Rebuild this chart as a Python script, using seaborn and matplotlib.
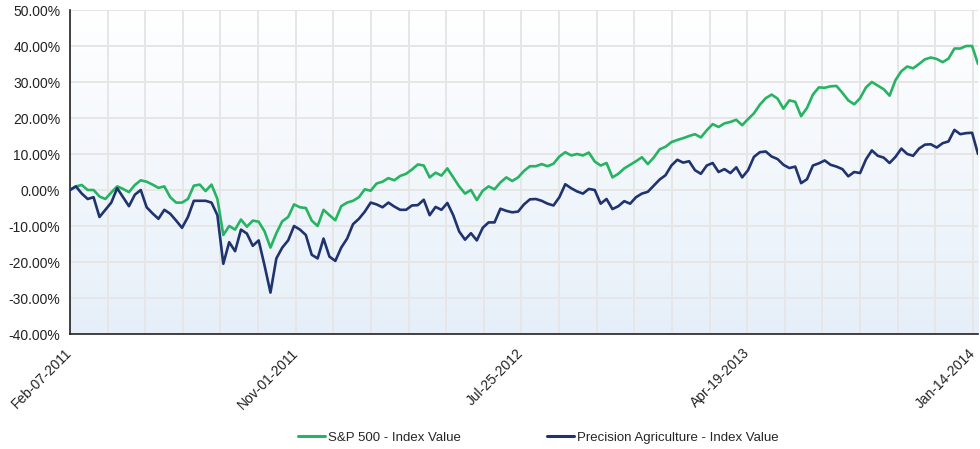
import numpy as np
import pandas as pd
import matplotlib
matplotlib.use("Agg")
import matplotlib.pyplot as plt
import matplotlib.dates as mdates
from matplotlib.colors import LinearSegmentedColormap
from matplotlib.lines import Line2D
import seaborn as sns

# weekly readings (percent change since Feb-07-2011)
START_DATE = "2011-02-07"
sp500 = [
    0.0, 1.0, 1.4, 0.0, 0.0, -1.8, -2.5, -0.7, 1.0, 0.3,
    -0.6, 1.4, 2.7, 2.3, 1.5, 0.6, 1.0, -2.0, -3.5, -3.5,
    -2.5, 1.2, 1.5, -0.3, 1.5, -2.5, -12.5, -10.0, -11.0, -8.2,
    -10.2, -8.5, -8.8, -11.5, -16.0, -12.0, -8.7, -7.5, -4.0, -4.8,
    -5.0, -8.5, -10.0, -5.5, -7.0, -8.4, -4.5, -3.5, -3.0, -2.0,
    0.2, -0.2, 1.8, 2.3, 3.3, 2.7, 3.9, 4.5, 5.7, 7.1,
    6.8, 3.5, 4.8, 4.0, 6.0, 3.5, 1.0, -1.0, 0.0, -2.8,
    -0.2, 1.0, 0.2, 2.1, 3.5, 2.5, 3.5, 5.3, 6.6, 6.6,
    7.2, 6.6, 7.3, 9.3, 10.5, 9.6, 10.0, 9.6, 10.4, 7.9,
    6.8, 7.5, 3.5, 4.5, 6.0, 7.0, 8.0, 9.1, 7.2, 9.0,
    11.3, 12.0, 13.3, 13.9, 14.4, 15.0, 15.5, 14.6, 16.6, 18.3,
    17.5, 18.5, 18.9, 19.5, 18.0, 19.7, 21.3, 23.7, 25.5, 26.5,
    25.4, 22.6, 24.9, 24.5, 20.5, 22.8, 26.5, 28.5, 28.4, 28.8,
    28.9, 27.0, 24.9, 23.8, 25.5, 28.5, 30.0, 29.0, 28.0, 26.2,
    30.5, 33.0, 34.3, 33.8, 35.0, 36.3, 36.8, 36.4, 35.5, 36.5,
    39.3, 39.3, 40.0, 40.0, 35.0,
]
precision_ag = [
    0.0, 1.0, -1.0, -2.5, -2.0, -7.5, -5.5, -3.5, 0.5, -2.0,
    -4.5, -1.3, 0.0, -4.8, -6.5, -8.0, -5.5, -6.6, -8.5, -10.5,
    -7.5, -3.0, -3.0, -3.0, -3.5, -7.0, -20.5, -14.5, -17.0, -11.0,
    -12.1, -15.5, -14.0, -21.0, -28.5, -19.0, -16.0, -14.0, -10.0, -11.0,
    -12.5, -18.0, -19.0, -13.5, -18.5, -19.7, -16.0, -13.5, -9.5, -8.0,
    -6.0, -3.5, -4.0, -4.8, -3.5, -4.6, -5.5, -5.5, -4.3, -4.2,
    -2.7, -7.0, -4.7, -5.5, -3.6, -7.0, -11.5, -13.8, -12.0, -14.0,
    -10.5, -9.0, -9.0, -5.2, -5.8, -6.2, -6.0, -4.0, -2.6, -2.5,
    -3.0, -3.8, -4.3, -2.0, 1.6, 0.5, -0.4, -1.0, 0.3, 0.0,
    -3.8, -2.5, -5.3, -4.5, -3.1, -3.8, -2.0, -1.0, -0.5, 1.2,
    2.9, 4.1, 6.8, 8.4, 7.6, 8.0, 5.5, 4.5, 6.8, 7.5,
    5.0, 5.8, 4.7, 6.3, 3.5, 5.5, 9.2, 10.5, 10.7, 9.3,
    8.6, 7.0, 6.1, 6.5, 1.9, 3.0, 6.8, 7.4, 8.2, 7.0,
    6.5, 5.8, 3.8, 5.0, 4.7, 8.5, 11.0, 9.5, 9.0, 7.5,
    9.2, 11.5, 10.0, 9.5, 11.5, 12.6, 12.7, 11.8, 13.0, 13.5,
    16.7, 15.5, 15.8, 15.9, 10.0,
]
tick_labels = ["Feb-07-2011", "Nov-01-2011", "Jul-25-2012", "Apr-19-2013", "Jan-14-2014"]
series_names = ["S&P 500 - Index Value", "Precision Agriculture - Index Value"]
colors = ["#26b462", "#1f336f"]

dates = pd.date_range(START_DATE, periods=len(sp500), freq="7D")
df = pd.DataFrame({"date": dates, series_names[0]: sp500, series_names[1]: precision_ag})
long_df = df.melt(id_vars="date", var_name="series", value_name="pct")

sns.set_style("white")
plt.rcParams["font.family"] = ["Liberation Sans", "DejaVu Sans"]

fig = plt.figure(figsize=(9.8, 4.49), dpi=100)
ax = fig.add_axes([70 / 980, 1 - 334 / 449, 908 / 980, 324 / 449])

# soft white-to-blue background
grad = np.linspace(0, 1, 256).reshape(-1, 1)
bg = LinearSegmentedColormap.from_list("bg", ["#ffffff", "#e6eff9"])
ax.imshow(grad, extent=[0, 1, 0, 1], transform=ax.transAxes, cmap=bg,
          aspect="auto", zorder=0)

sns.lineplot(data=long_df, x="date", y="pct", hue="series", palette=colors,
             linewidth=1.9, ax=ax, legend=False, zorder=3)

ax.set_xlim(dates[0], dates[-1])
ax.set_ylim(-40, 50)
ax.set_yticks(range(-40, 51, 10))
ax.yaxis.set_major_formatter(lambda v, p: f"{v:.2f}%")

label_pos = mdates.date2num(pd.to_datetime(tick_labels, format="%b-%d-%Y"))
tick_pos = np.linspace(label_pos[0], label_pos[-1], 25)
labels = [tick_labels[i // 6] if i % 6 == 0 else "" for i in range(len(tick_pos))]
ax.set_xticks(tick_pos, labels=labels)
plt.setp(ax.get_xticklabels(), rotation=45, ha="right", va="center",
         rotation_mode="anchor", fontsize=9.5)

ax.set_xlabel("")
ax.set_ylabel("")
ax.grid(True, color="#e6e6e6", linewidth=1.4)
ax.set_axisbelow(True)
for side in ["top", "right"]:
    ax.spines[side].set_visible(False)
for side in ["left", "bottom"]:
    ax.spines[side].set_color("#222222")
    ax.spines[side].set_linewidth(1.2)
ax.tick_params(direction="out", length=5, width=1, color="#222222",
               labelsize=10, labelcolor="#222222", pad=2)
ax.tick_params(axis="x", length=6, pad=6)

handles = [Line2D([], [], color=c, linewidth=2.2) for c in colors]
fig.legend(handles, series_names, loc="center", bbox_to_anchor=(0.549, 0.025),
           ncol=2, frameon=False, fontsize=9.5, handlelength=2.1,
           handletextpad=0.2, columnspacing=6.5)

fig.savefig("out.png", dpi=100)
